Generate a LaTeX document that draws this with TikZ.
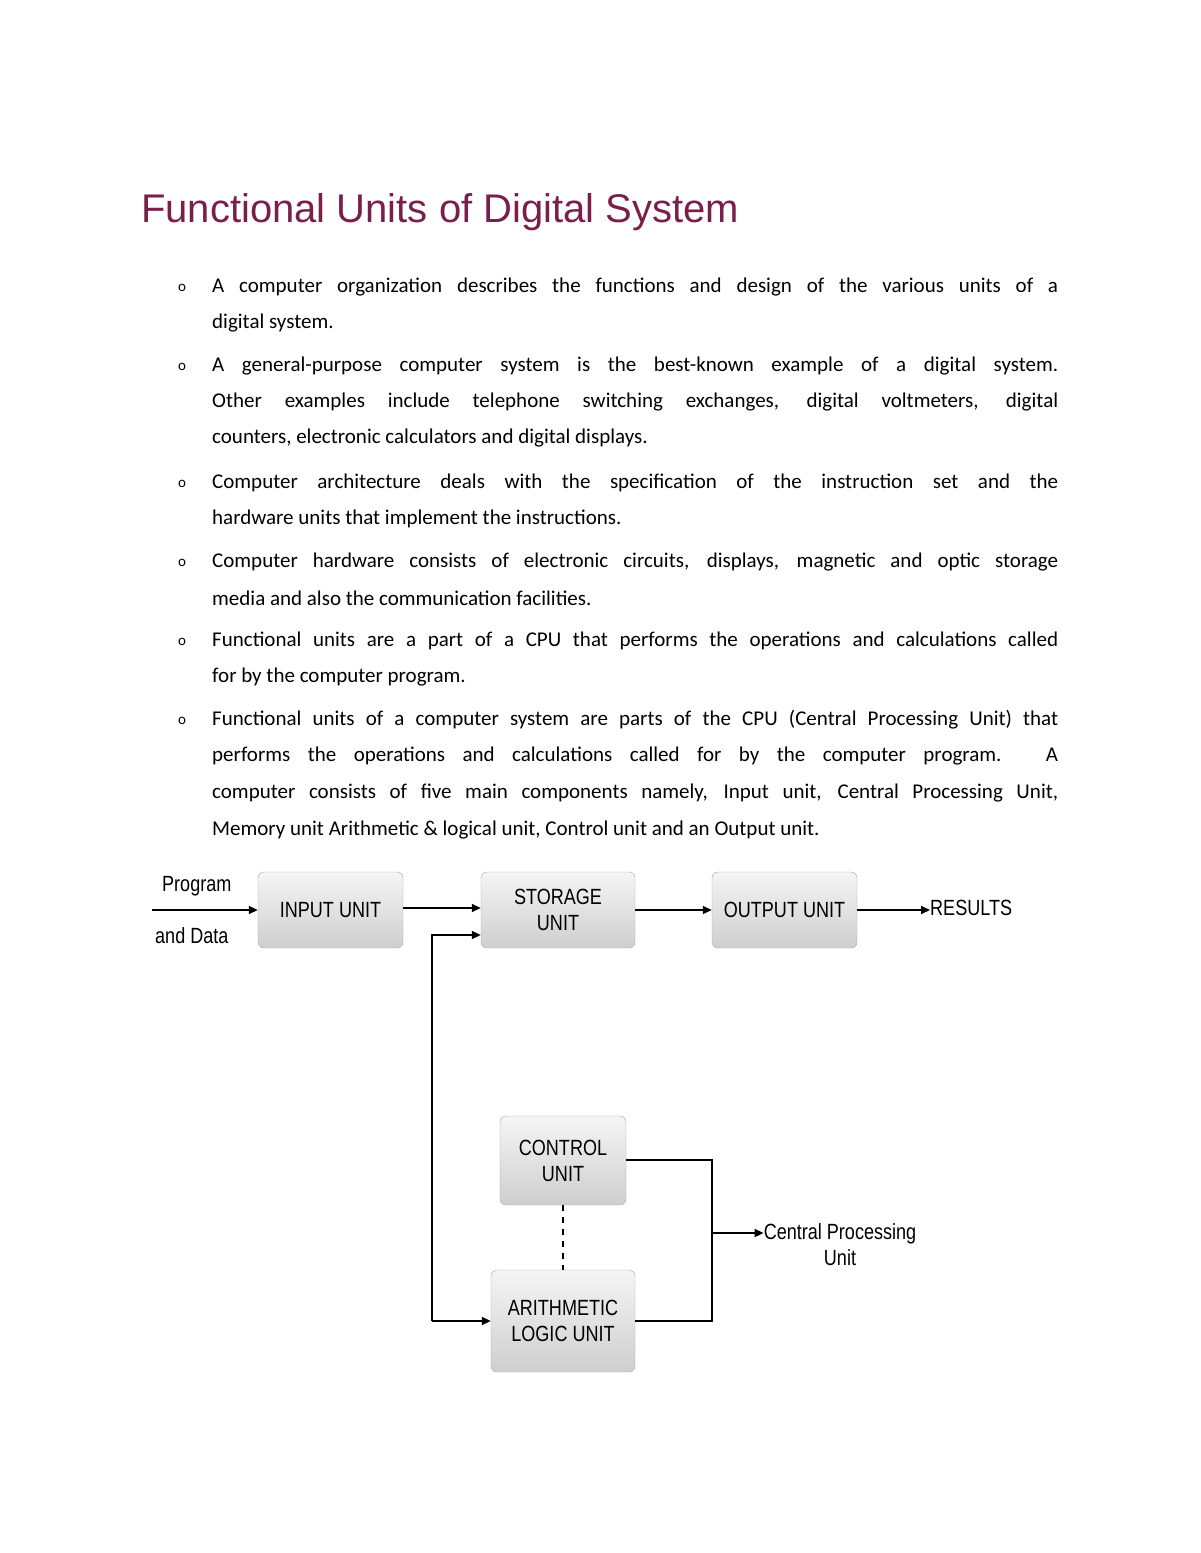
\documentclass[tikz,border=0pt]{standalone}
\usepackage{fontspec}
\setmainfont{Carlito}
\newfontfamily\titlefont{Liberation Sans}
\newfontfamily\narrow[FakeStretch=0.82]{Liberation Sans}
\usetikzlibrary{arrows.meta}
\definecolor{titlec}{HTML}{7A1E4A}
\tikzset{
 ln/.style={anchor=west,inner sep=0pt,font=\fontsize{21}{21}\selectfont},
 bul/.style={anchor=center,inner sep=0pt,font=\fontsize{15}{15}\selectfont},
 unit/.style={draw=gray!70,rounded corners=6pt,top color=gray!8,bottom color=gray!38,align=center,inner sep=0pt,font=\narrow\fontsize{22}{26}\selectfont},
 lab/.style={inner sep=0pt,font=\narrow\fontsize{22}{26}\selectfont},
 con/.style={line width=1.6pt,-{Triangle[length=9pt,width=8pt]}},
 plain/.style={line width=1.6pt}
}
\begin{document}
\begin{tikzpicture}[x=1pt,y=-1pt]
\useasboundingbox (0,0) rectangle (1200,1553);
\node[anchor=west,inner sep=0pt,text=titlec,font=\titlefont\fontsize{40}{40}\selectfont] (title) at (141,212) {Functional Units of Digital System};
\foreach \y/\n in {288/1,367/2,484/3,563/4,642/5,721/6}{\node[bul] (b\n) at (182,\y) {o};}
\def\J#1{\makebox[846pt][s]{#1}}
\node[ln] (l1) at (212,287) {\J{A computer organization describes the functions and design of the various units of a}};
\node[ln] (l2) at (212,323) {digital system.};
\node[ln] (l3) at (212,366) {\J{A general-purpose computer system is the best-known example of a digital system.}};
\node[ln] (l4) at (212,402) {\J{Other examples include telephone switching exchanges, digital voltmeters, digital}};
\node[ln] (l5) at (212,438) {counters, electronic calculators and digital displays.};
\node[ln] (l6) at (212,483) {\J{Computer architecture deals with the specification of the instruction set and the}};
\node[ln] (l7) at (212,519) {hardware units that implement the instructions.};
\node[ln] (l8) at (212,562) {\J{Computer hardware consists of electronic circuits, displays, magnetic and optic storage}};
\node[ln] (l9) at (212,598) {media and also the communication facilities.};
\node[ln] (l10) at (212,641) {\J{Functional units are a part of a CPU that performs the operations and calculations called}};
\node[ln] (l11) at (212,677) {for by the computer program.};
\node[ln] (l12) at (212,720) {\J{Functional units of a computer system are parts of the CPU (Central Processing Unit) that}};
\node[ln] (l13) at (212,756) {\J{performs the operations and calculations called for by the computer program. A}};
\node[ln] (l14) at (212,793) {\J{computer consists of five main components namely, Input unit, Central Processing Unit,}};
\node[ln] (l15) at (212,830) {Memory unit Arithmetic \& logical unit, Control unit and an Output unit.};
% diagram
\node[unit,minimum width=145pt,minimum height=76pt] (in) at (330.5,910) {INPUT UNIT};
\node[unit,minimum width=154pt,minimum height=76pt] (st) at (558,910) {STORAGE\\UNIT};
\node[unit,minimum width=145pt,minimum height=76pt] (out) at (784.5,910) {OUTPUT UNIT};
\node[unit,minimum width=126pt,minimum height=89pt] (cu) at (563,1160.5) {CONTROL\\UNIT};
\node[unit,minimum width=144pt,minimum height=102pt] (alu) at (563,1321) {ARITHMETIC\\LOGIC UNIT};
\node[lab,anchor=west] (prog) at (162,886) {Program};
\node[lab,anchor=west] (data) at (155,936) {and Data};
\node[lab,anchor=west] (res) at (930,908) {RESULTS};
\node[lab,align=center] (cpu) at (840,1245) {Central Processing\\Unit};
\coordinate (s0) at (152,910);
\draw[con] (s0) -- (in.west |- s0);
\draw[con] (in.east |- 0,908) -- (st.west |- 0,908);
\draw[con] (st.east |- 0,910) -- (out.west |- 0,910);
\draw[con] (out.east |- 0,910) -- (res.west |- 0,910);
\coordinate (r1) at (432,935);
\coordinate (r2) at (432,1321);
\draw[con] (r2) -- (r1) -- (st.west |- r1);
\draw[con] (r2) -- (alu.west);
\coordinate (j1) at (712,1160);
\coordinate (j2) at (712,1321);
\coordinate (j3) at (712,1233);
\draw[plain] (cu.east |- j1) -- (j1) -- (j2) -- (alu.east);
\draw[con] (j3) -- (cpu.west |- j3);
\draw[line width=1.4pt,dashed,dash pattern=on 6pt off 6pt] (cu.south) -- (alu.north);
\end{tikzpicture}
\end{document}
